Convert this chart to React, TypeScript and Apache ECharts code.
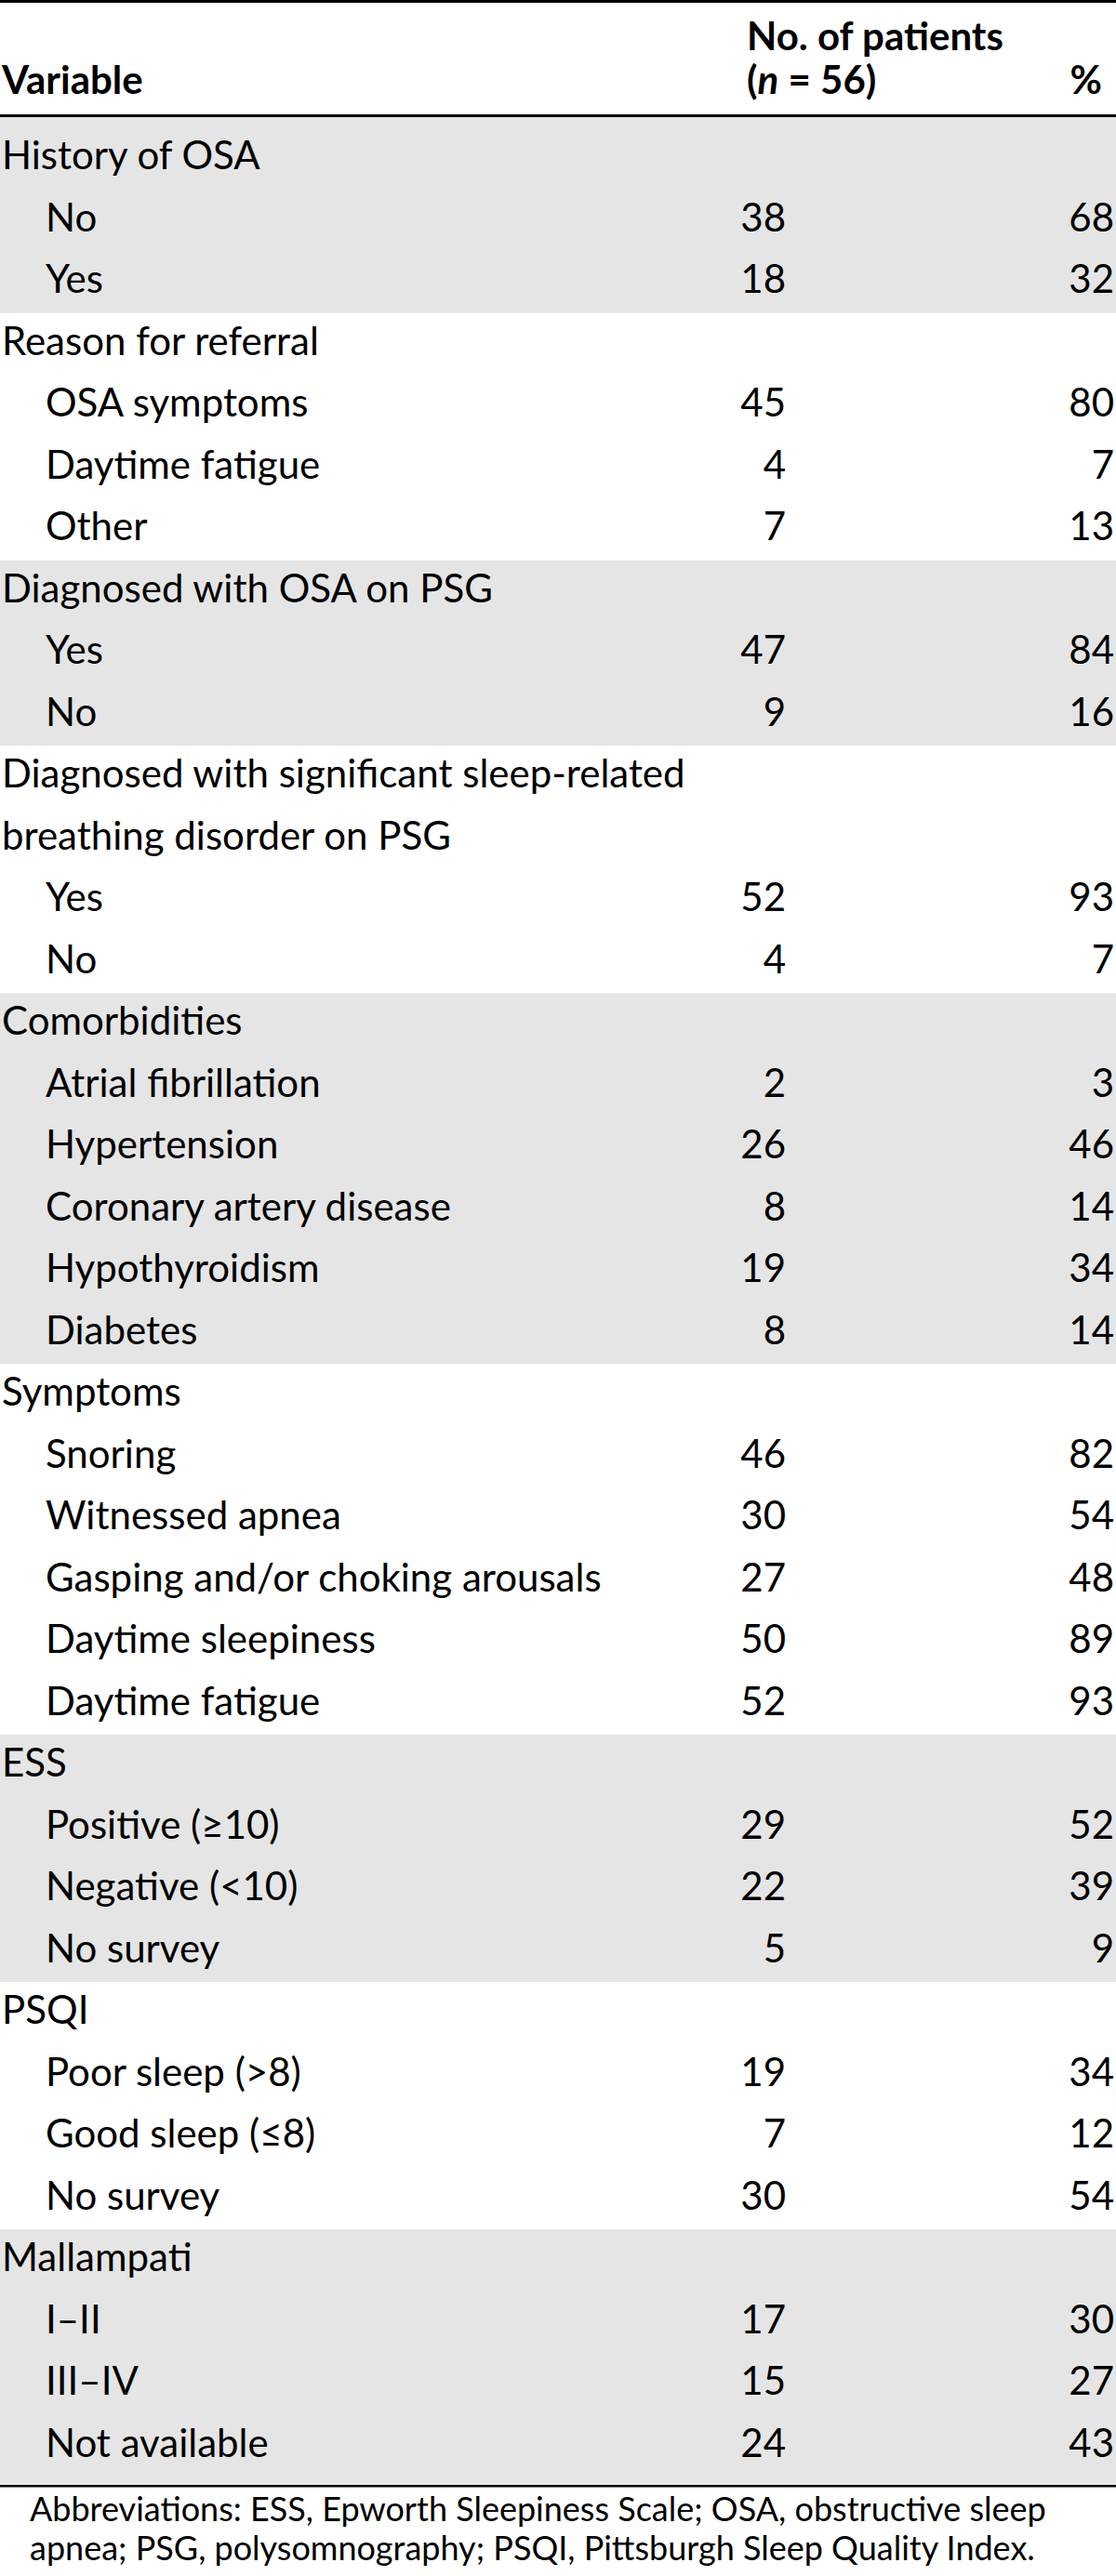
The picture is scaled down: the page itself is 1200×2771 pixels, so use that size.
import React, { useEffect, useRef } from "react";
import * as echarts from "echarts";

// ---------- data ----------
const groupTitles = [
  "History of OSA",
  "Reason for referral",
  "Diagnosed with OSA on PSG",
  "Diagnosed with significant sleep-related\nbreathing disorder on PSG",
  "Comorbidities",
  "Symptoms",
  "ESS",
  "PSQI",
  "Mallampati",
];
const itemLabels = [
  ["No", "Yes"],
  ["OSA symptoms", "Daytime fatigue", "Other"],
  ["Yes", "No"],
  ["Yes", "No"],
  ["Atrial fibrillation", "Hypertension", "Coronary artery disease", "Hypothyroidism", "Diabetes"],
  ["Snoring", "Witnessed apnea", "Gasping and/or choking arousals", "Daytime sleepiness", "Daytime fatigue"],
  ["Positive (≥10)", "Negative (<10)", "No survey"],
  ["Poor sleep (>8)", "Good sleep (≤8)", "No survey"],
  ["I–II", "III–IV", "Not available"],
];
const patientCounts = [
  [38, 18],
  [45, 4, 7],
  [47, 9],
  [52, 4],
  [2, 26, 8, 19, 8],
  [46, 30, 27, 50, 52],
  [29, 22, 5],
  [19, 7, 30],
  [17, 15, 24],
];
const percentages = [
  [68, 32],
  [80, 7, 13],
  [84, 16],
  [93, 7],
  [3, 46, 14, 34, 14],
  [82, 54, 48, 89, 93],
  [52, 39, 9],
  [34, 12, 54],
  [30, 27, 43],
];
const headerVariable = "Variable";
const headerCountLine1 = "No. of patients";
const headerCountN = "56";
const headerPercent = "%";
const footnoteLines = [
  "Abbreviations: ESS, Epworth Sleepiness Scale; OSA, obstructive sleep",
  "apnea; PSG, polysomnography; PSQI, Pittsburgh Sleep Quality Index.",
];

// ---------- layout / style ----------
const W = 1200;
const H = 2771;
const FONT = "Lato, 'Noto Sans', sans-serif";
const BODY_SIZE = 42;
const FOOT_SIZE = 36;
const GRAY = "#e5e5e5";
const INK = "#000000";
const Y_MIN = -0.17;
const Y_MAX = 38.15;
const TEXT_MID = 0.436; // visual centre of text inside a row slot

type Row = {
  kind: "group" | "item";
  text: string;
  n?: number;
  pct?: number;
  slot: number;
  group: number;
};

const rows: Row[] = [];
const bands: number[][] = [];
{
  let slot = 0;
  groupTitles.forEach((t, g) => {
    const start = slot;
    rows.push({ kind: "group", text: t, slot, group: g });
    slot += t.split("\n").length;
    itemLabels[g].forEach((l, k) => {
      rows.push({
        kind: "item",
        text: l,
        n: patientCounts[g][k],
        pct: percentages[g][k],
        slot,
        group: g,
      });
      slot += 1;
    });
    bands.push([start, slot, g]);
  });
}

function txt(text: string, x: number, y: number, align: string, size: number, weight = "normal") {
  return {
    type: "text",
    style: {
      text,
      x,
      y,
      fill: INK,
      fontFamily: FONT,
      fontSize: size,
      fontWeight: weight,
      align,
      textAlign: align,
      verticalAlign: "middle",
      textVerticalAlign: "middle",
    },
  };
}

export default function App() {
  const ref = useRef<HTMLDivElement>(null);

  useEffect(() => {
    if (!ref.current) return;
    const chart = echarts.init(ref.current, undefined, { renderer: "svg" });
    const lastGroup = groupTitles.length - 1;

    chart.setOption({
      animation: false,
      backgroundColor: "#ffffff",
      grid: { left: 0, right: 0, top: 126, bottom: 97, containLabel: false },
      xAxis: { type: "value", min: 0, max: 1, show: false },
      yAxis: { type: "value", min: Y_MIN, max: Y_MAX, inverse: true, show: false },
      series: [
        {
          type: "custom",
          z: 1,
          silent: true,
          data: bands
            .filter((b) => b[2] % 2 === 0)
            .map((b) => [b[2] === 0 ? Y_MIN : b[0], b[2] === lastGroup ? Y_MAX : b[1]]),
          renderItem: (params: any, api: any) => {
            const y0 = api.coord([0, api.value(0)])[1];
            const y1 = api.coord([0, api.value(1)])[1];
            return {
              type: "rect",
              shape: { x: 0, y: y0, width: W, height: y1 - y0 },
              style: { fill: GRAY },
            };
          },
        },
        {
          type: "custom",
          z: 2,
          silent: true,
          data: rows.map((r) => [0, r.slot]),
          renderItem: (params: any, api: any) => {
            const r = rows[params.dataIndex];
            const children: any[] = [];
            r.text.split("\n").forEach((ln, j) => {
              const y = api.coord([0, r.slot + j + TEXT_MID])[1];
              children.push(txt(ln, r.kind === "group" ? 2 : 49, y, "left", BODY_SIZE));
            });
            if (r.kind === "item") {
              const y = api.coord([0, r.slot + TEXT_MID])[1];
              children.push(txt(String(r.n), 845, y, "right", BODY_SIZE));
              children.push(txt(String(r.pct), 1198, y, "right", BODY_SIZE));
            }
            return { type: "group", children };
          },
        },
      ],
      graphic: [
        { type: "rect", shape: { x: 0, y: 0, width: W, height: 3 }, style: { fill: "#000" }, z: 10 },
        { type: "rect", shape: { x: 0, y: 123, width: W, height: 3 }, style: { fill: "#000" }, z: 10 },
        { type: "rect", shape: { x: 0, y: 2673, width: W, height: 2.5 }, style: { fill: "#000" }, z: 10 },
        txt(headerVariable, 2, 85, "left", BODY_SIZE, "bold"),
        txt(headerCountLine1, 803, 38, "left", BODY_SIZE, "bold"),
        {
          type: "text",
          style: {
            text: "{b|(}{i|n}{b| = " + headerCountN + ")}",
            x: 803,
            y: 85,
            align: "left",
            textAlign: "left",
            verticalAlign: "middle",
            textVerticalAlign: "middle",
            fill: INK,
            fontFamily: FONT,
            fontSize: BODY_SIZE,
            fontWeight: "bold",
            rich: {
              b: { fontFamily: FONT, fontSize: BODY_SIZE, fontWeight: "bold", fill: INK },
              i: { fontFamily: FONT, fontSize: BODY_SIZE, fontWeight: "bold", fontStyle: "italic", fill: INK },
            },
          },
        },
        txt(headerPercent, 1185, 85, "right", BODY_SIZE, "bold"),
        txt(footnoteLines[0], 32, 2698, "left", FOOT_SIZE),
        txt(footnoteLines[1], 32, 2740, "left", FOOT_SIZE),
      ],
    });

    return () => chart.dispose();
  }, []);

  return (
    <div
      ref={ref}
      style={{ position: "absolute", left: 0, top: 0, width: W, height: H }}
    />
  );
}
